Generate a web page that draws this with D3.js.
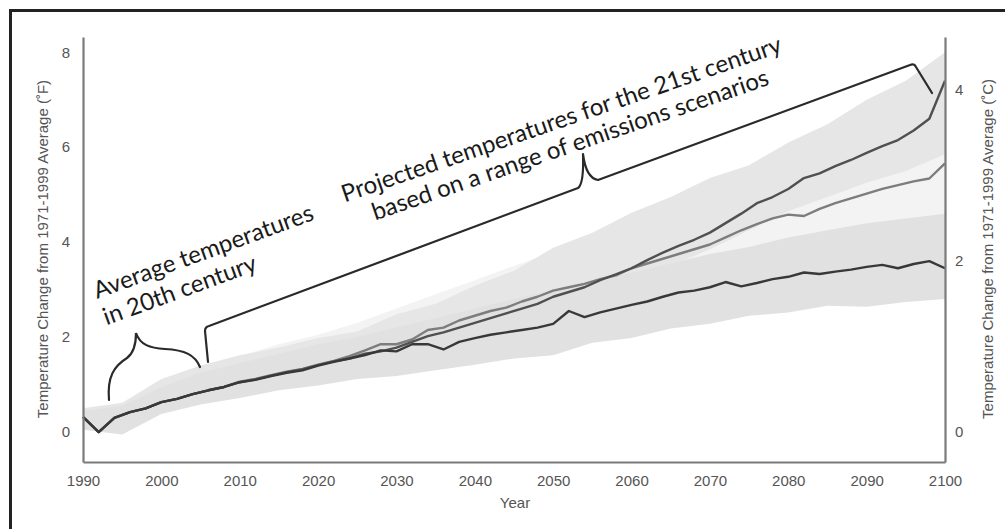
<!DOCTYPE html>
<html>
<head>
<meta charset="utf-8">
<script src="https://cdn.jsdelivr.net/npm/d3@7/dist/d3.min.js"></script>
<style>
  html, body { margin: 0; padding: 0; background: #fff; }
  svg { display: block; }
  .tick text { font-family: "Liberation Sans", Arial, sans-serif; font-size: 15px; fill: #555; }
</style>
</head>
<body>
<svg id="chart" width="1005" height="529"></svg>
<script>
// ---------- DATA ----------
const years = d3.range(1990, 2101, 2);            // 1990, 1992, ... 2100
// Scenario mean lines (°F change from 1971-1999 average)
const lowEmissions = [0.32, 0.00, 0.30, 0.42, 0.50, 0.63, 0.70, 0.80,
  0.88, 0.95, 1.05, 1.10, 1.18, 1.25, 1.30, 1.40, 1.48, 1.55, 1.62, 1.72,
  1.70, 1.85, 1.85, 1.74, 1.90, 1.98, 2.05, 2.10, 2.15, 2.20, 2.28, 2.55,
  2.42, 2.52, 2.60, 2.68, 2.75, 2.85, 2.94, 2.98, 3.05, 3.16, 3.07, 3.14,
  3.22, 3.27, 3.36, 3.33, 3.38, 3.42, 3.48, 3.52, 3.45, 3.54, 3.60, 3.45];
const midEmissions = [0.32, 0.00, 0.30, 0.42, 0.50, 0.63, 0.70, 0.80,
  0.88, 0.95, 1.06, 1.12, 1.20, 1.27, 1.33, 1.42, 1.50, 1.60, 1.72, 1.85,
  1.85, 1.95, 2.15, 2.20, 2.35, 2.45, 2.55, 2.62, 2.75, 2.85, 2.98, 3.05,
  3.12, 3.22, 3.30, 3.45, 3.55, 3.65, 3.75, 3.85, 3.95, 4.10, 4.25, 4.38,
  4.50, 4.58, 4.55, 4.70, 4.82, 4.92, 5.02, 5.12, 5.20, 5.28, 5.34, 5.66];
const highEmissions = [0.32, 0.00, 0.30, 0.42, 0.50, 0.63, 0.70, 0.80,
  0.88, 0.95, 1.05, 1.11, 1.19, 1.26, 1.32, 1.41, 1.49, 1.55, 1.65, 1.70,
  1.78, 1.90, 2.02, 2.10, 2.20, 2.30, 2.40, 2.50, 2.60, 2.70, 2.85, 2.95,
  3.05, 3.20, 3.32, 3.45, 3.62, 3.78, 3.92, 4.05, 4.20, 4.40, 4.60, 4.82,
  4.95, 5.12, 5.35, 5.45, 5.60, 5.73, 5.88, 6.02, 6.15, 6.35, 6.60, 7.40];

// Uncertainty ranges, every 5 years
const bandYears = d3.range(1990, 2101, 5);
const lowBandMin  = [0.05, -0.05, 0.38, 0.58, 0.72, 0.88, 0.98, 1.12, 1.18, 1.30, 1.42, 1.55,
  1.62, 1.88, 1.98, 2.18, 2.28, 2.45, 2.52, 2.66, 2.64, 2.74, 2.80];
const lowBandMax  = [0.45, 0.55, 0.95, 1.25, 1.45, 1.65, 1.85, 2.00, 2.20, 2.40, 2.60, 2.80,
  3.00, 3.20, 3.35, 3.55, 3.75, 3.90, 4.10, 4.25, 4.40, 4.50, 4.60];
const midBandMin  = [0.10, 0.20, 0.45, 0.60, 0.80, 0.95, 1.10, 1.25, 1.40, 1.55, 1.75, 1.95,
  2.20, 2.45, 2.70, 2.95, 3.20, 3.40, 3.60, 3.75, 3.90, 4.00, 4.10];
const midBandMax  = [0.45, 0.60, 1.10, 1.35, 1.60, 1.85, 2.05, 2.30, 2.60, 2.90, 3.20, 3.50,
  3.80, 4.10, 4.40, 4.70, 5.00, 5.30, 5.60, 5.90, 6.20, 6.50, 6.90];
const highBandMin = [0.10, 0.30, 0.50, 0.65, 0.85, 1.00, 1.15, 1.30, 1.45, 1.65, 1.85, 2.10,
  2.45, 2.80, 3.15, 3.50, 3.85, 4.25, 4.65, 4.95, 5.25, 5.50, 5.85];
const highBandMax = [0.50, 0.62, 1.12, 1.40, 1.62, 1.78, 1.98, 2.12, 2.48, 2.70, 3.08, 3.40,
  3.88, 4.20, 4.62, 4.95, 5.35, 5.62, 6.10, 6.48, 7.00, 7.40, 8.00];

const xTicks = [1990, 2000, 2010, 2020, 2030, 2040, 2050, 2060, 2070, 2080, 2090, 2100];
const fTicks = [0, 2, 4, 6, 8];
const cTicks = [0, 2, 4];

const leftTitle = "Temperature Change from 1971-1999 Average (˚F)";
const rightTitle = "Temperature Change from 1971-1999 Average (˚C)";
const xTitle = "Year";
const note20 = ["Average temperatures", "in 20th century"];
const note21 = ["Projected temperatures for the 21st century", "based on a range of emissions scenarios"];

// ---------- DRAW ----------
const svg = d3.select("#chart");
const x = d3.scaleLinear().domain([1990, 2100]).range([83, 945]);
const yF = d3.scaleLinear().domain([-0.63, 8.32]).range([462, 37]);
const yC = d3.scaleLinear().domain([-0.63 / 1.8, 8.32 / 1.8]).range([462, 37]);

// frame
svg.append("rect").attr("x", 10.5).attr("y", 10.5).attr("width", 1100).attr("height", 600)
  .attr("fill", "none").attr("stroke", "#222").attr("stroke-width", 3);

function band(minArr, maxArr, fill) {
  const data = bandYears.map((yr, i) => ({ yr, lo: minArr[i], hi: maxArr[i] }));
  svg.append("path").datum(data)
    .attr("fill", fill)
    .attr("d", d3.area().x(d => x(d.yr)).y0(d => yF(d.lo)).y1(d => yF(d.hi)));
}
band(midBandMin, midBandMax, "#f3f3f3");
band(highBandMin, highBandMax, "#e6e6e6");
band(lowBandMin, lowBandMax, "#e1e1e1");

function line(vals, color) {
  svg.append("path").datum(years.map((yr, i) => ({ yr, v: vals[i] })))
    .attr("fill", "none").attr("stroke", color).attr("stroke-width", 2.4)
    .attr("stroke-linejoin", "round")
    .attr("d", d3.line().x(d => x(d.yr)).y(d => yF(d.v)));
}
line(midEmissions, "#7d7d7d");
line(highEmissions, "#505050");
line(lowEmissions, "#383838");

// axes
const axisColor = "#7a7a7a";
const gL = svg.append("g").attr("transform", "translate(83,0)")
  .call(d3.axisLeft(yF).tickValues(fTicks).tickSize(0).tickPadding(13).tickFormat(d3.format("d")));
const gR = svg.append("g").attr("transform", "translate(945,0)")
  .call(d3.axisRight(yC).tickValues(cTicks).tickSize(0).tickPadding(10).tickFormat(d3.format("d")));
const gB = svg.append("g").attr("transform", "translate(0,462)")
  .call(d3.axisBottom(x).tickValues(xTicks).tickSize(0).tickPadding(13).tickFormat(d3.format("d")));
[gL, gR, gB].forEach(g => g.select(".domain").attr("stroke", axisColor).attr("stroke-width", 2.2));

const titleFont = '"Liberation Sans", Arial, sans-serif';
svg.append("text").attr("transform", "translate(48,249) rotate(-90)")
  .attr("text-anchor", "middle").attr("font-family", titleFont).attr("font-size", 15)
  .attr("fill", "#555").text(leftTitle);
svg.append("text").attr("transform", "translate(993,249) rotate(-90)")
  .attr("text-anchor", "middle").attr("font-family", titleFont).attr("font-size", 15)
  .attr("fill", "#555").text(rightTitle);
svg.append("text").attr("x", 515).attr("y", 508)
  .attr("text-anchor", "middle").attr("font-family", titleFont).attr("font-size", 15)
  .attr("fill", "#555").text(xTitle);

// annotations
const noteFont = 'Lato, "Open Sans", sans-serif';
const t20 = svg.append("text").attr("transform", "translate(97,299) rotate(-20)")
  .attr("font-family", noteFont).attr("font-size", 24).attr("font-weight", 400).attr("fill", "#1a1a1a");
note20.forEach((s, i) => t20.append("tspan").attr("x", 0).attr("y", i * 28).text(s));

const t21 = svg.append("text").attr("transform", "translate(564,127) rotate(-19)")
  .attr("font-family", noteFont).attr("font-size", 24).attr("font-weight", 400).attr("fill", "#1a1a1a")
  .attr("text-anchor", "middle");
note21.forEach((s, i) => t21.append("tspan").attr("x", 0).attr("y", i * 27).text(s));

// hand-drawn brackets
svg.append("path")
  .attr("d", "M109,400 C107,377 114,366 127,358 C135,352 136,342 136,333 C140,345 150,348 165,349 C185,350 195,355 200,367")
  .attr("fill", "none").attr("stroke", "#2a2a2a").attr("stroke-width", 2.2).attr("stroke-linecap", "round");
svg.append("path")
  .attr("d", "M208,362 L205,331 Q205,327 209,326 L578,188 Q584,184 583,154 Q586,178 598,180 L910,65 Q914,63 916,67 L932,93")
  .attr("fill", "none").attr("stroke", "#2a2a2a").attr("stroke-width", 2.2).attr("stroke-linecap", "round")
  .attr("stroke-linejoin", "round");
</script>
</body>
</html>
